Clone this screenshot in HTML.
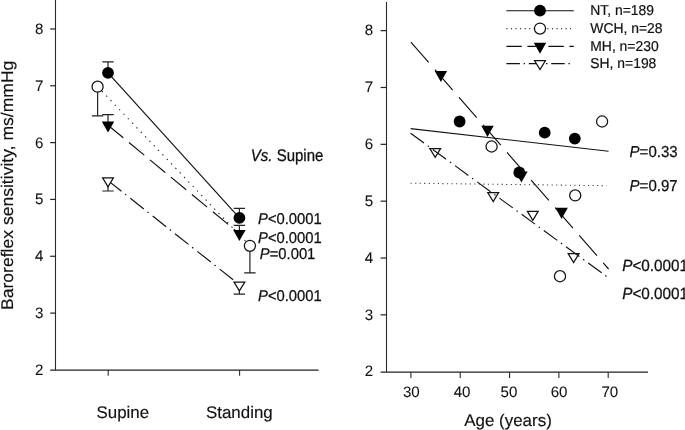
<!DOCTYPE html>
<html><head><meta charset="utf-8"><title>Baroreflex sensitivity</title>
<style>
html,body{margin:0;padding:0;background:#fff;}
body{width:685px;height:430px;overflow:hidden;}
svg{display:block;will-change:transform;}
text{font-family:"Liberation Sans",sans-serif;fill:#111;stroke:#111;stroke-width:0.25px;text-rendering:geometricPrecision;}
.t{font-size:14.8px;}
.v{font-size:15.0px;}
.k{font-size:15.1px;stroke-width:0.08px;}
.l{font-size:13.9px;stroke-width:0.2px;}
.b{font-size:16.9px;stroke-width:0.15px;}
.i{font-style:italic;}
.ax{stroke:#2a2a2a;stroke-width:1.1;fill:none;}
.tk{stroke:#222;stroke-width:1.2;fill:none;}
.axh{stroke:#222;stroke-width:1.25;fill:none;}
.ln{stroke:#111;stroke-width:1.15;fill:none;}
.dt{stroke:#333;stroke-width:1.05;fill:none;}
.eb{stroke:#222;stroke-width:1.2;fill:none;}
.fc{fill:#000;stroke:none;}
.oc{fill:#fff;stroke:#111;stroke-width:1.25;}
.on{fill:none;stroke:#111;stroke-width:1.25;}
</style></head><body>
<svg width="685" height="430" viewBox="0 0 685 430">
<rect width="685" height="430" fill="#fff"/>

<!-- left axes -->
<path class="ax" d="M55.5 0V370"/><path class="axh" d="M50.2 370H318.6"/>
<text class="k" transform="translate(43.50 374.93) scale(1 1.0)" text-anchor="end">2</text>
<path class="tk" d="M50.2 313.10H55.5"/>
<text class="k" transform="translate(43.50 318.10) scale(1 1.0)" text-anchor="end">3</text>
<path class="tk" d="M50.2 256.27H55.5"/>
<text class="k" transform="translate(43.50 261.27) scale(1 1.0)" text-anchor="end">4</text>
<path class="tk" d="M50.2 199.44H55.5"/>
<text class="k" transform="translate(43.50 204.44) scale(1 1.0)" text-anchor="end">5</text>
<path class="tk" d="M50.2 142.61H55.5"/>
<text class="k" transform="translate(43.50 147.61) scale(1 1.0)" text-anchor="end">6</text>
<path class="tk" d="M50.2 85.78H55.5"/>
<text class="k" transform="translate(43.50 90.78) scale(1 1.0)" text-anchor="end">7</text>
<path class="tk" d="M50.2 28.95H55.5"/>
<text class="k" transform="translate(43.50 33.95) scale(1 1.0)" text-anchor="end">8</text>
<path class="ax" d="M108.2 370V375.7"/>
<path class="ax" d="M239.6 370V375.7"/>
<text class="b" transform="translate(96.50 417.90) scale(1 1.0)">Supine</text>
<text class="b" transform="translate(206.00 417.90) scale(1 1.0)">Standing</text>
<text class="b" transform="translate(12.9 310.0) rotate(-90)" textLength="249.4" lengthAdjust="spacingAndGlyphs">Baroreflex sensitivity, ms/mmHg</text>
<path class="ln" d="M108.0 72.9L239.4 217.9"/>
<path class="dt" style="stroke:#222;stroke-width:1.1" stroke-dasharray="1.3 4.95" d="M97.6 86.7L249.9 245.8"/>
<path class="ln" stroke-dasharray="19.8 7.4" d="M108.0 125.2L239.4 233.7"/>
<path class="ln" stroke-dasharray="17.2 4.6 1.6 5.1" d="M108.0 180.6L239.4 284.7"/>
<path class="eb" d="M108.0 72.9V61.9M102.3 61.9H113.7"/>
<path class="eb" d="M97.6 86.7V115.8M91.89999999999999 115.8H103.3"/>
<path class="eb" d="M108.0 125.6V114.6M102.3 114.6H113.7"/>
<path class="eb" d="M108.0 180.6V191.0M102.3 191.0H113.7"/>
<path class="eb" d="M239.4 217.9V208.4M233.70000000000002 208.4H245.1"/>
<path class="eb" d="M239.4 233.7V225.4M233.70000000000002 225.4H245.1"/>
<path class="eb" d="M249.9 245.8V272.9M244.20000000000002 272.9H255.6"/>
<path class="eb" d="M239.4 284.7V294.1M233.70000000000002 294.1H245.1"/>
<circle class="fc" cx="108.00" cy="72.90" r="5.9"/>
<circle class="fc" cx="239.40" cy="217.90" r="5.9"/>
<circle class="oc" cx="97.60" cy="86.70" r="5.55"/>
<circle class="oc" cx="249.90" cy="245.80" r="5.55"/>
<path class="fc" d="M101.80 121.40L114.20 121.40L108.00 132.50Z"/>
<path class="fc" d="M233.20 229.90L245.60 229.90L239.40 241.00Z"/>
<path class="oc" d="M102.60 177.90L113.40 177.90L108.00 186.80Z"/>
<path class="oc" d="M234.00 282.00L244.80 282.00L239.40 290.90Z"/>
<text class="v" transform="translate(250.80 160.70) scale(1 1.12)"><tspan class="i">Vs.</tspan> Supine</text>
<text class="t" transform="translate(258.00 224.40) scale(1 1.06)"><tspan class="i">P</tspan>&lt;0.0001</text>
<text class="t" transform="translate(258.00 242.80) scale(1 1.06)"><tspan class="i">P</tspan>&lt;0.0001</text>
<text class="t" transform="translate(259.80 259.10) scale(1 1.06)"><tspan class="i">P</tspan>=0.001</text>
<text class="t" transform="translate(258.00 300.60) scale(1 1.06)"><tspan class="i">P</tspan>&lt;0.0001</text>
<!-- right axes -->
<path class="ax" d="M386.5 2V372"/><path class="axh" d="M380.6 372H648"/>
<text class="k" transform="translate(373.10 376.49) scale(1 1.0)" text-anchor="end">2</text>
<path class="tk" d="M380.6 314.85H386.5"/>
<text class="k" transform="translate(373.10 319.65) scale(1 1.0)" text-anchor="end">3</text>
<path class="tk" d="M380.6 258.01H386.5"/>
<text class="k" transform="translate(373.10 262.81) scale(1 1.0)" text-anchor="end">4</text>
<path class="tk" d="M380.6 201.17H386.5"/>
<text class="k" transform="translate(373.10 205.97) scale(1 1.0)" text-anchor="end">5</text>
<path class="tk" d="M380.6 144.33H386.5"/>
<text class="k" transform="translate(373.10 149.13) scale(1 1.0)" text-anchor="end">6</text>
<path class="tk" d="M380.6 87.49H386.5"/>
<text class="k" transform="translate(373.10 92.29) scale(1 1.0)" text-anchor="end">7</text>
<path class="tk" d="M380.6 30.65H386.5"/>
<text class="k" transform="translate(373.10 35.45) scale(1 1.0)" text-anchor="end">8</text>
<path class="ax" d="M410.90 372V378.1"/>
<text class="k" transform="translate(411.30 397.10) scale(1 1.0)" text-anchor="middle">30</text>
<path class="ax" d="M460.22 372V378.1"/>
<text class="k" transform="translate(462.02 397.10) scale(1 1.0)" text-anchor="middle">40</text>
<path class="ax" d="M509.55 372V378.1"/>
<text class="k" transform="translate(508.95 397.10) scale(1 1.0)" text-anchor="middle">50</text>
<path class="ax" d="M558.88 372V378.1"/>
<text class="k" transform="translate(559.08 397.10) scale(1 1.0)" text-anchor="middle">60</text>
<path class="ax" d="M608.20 372V378.1"/>
<text class="k" transform="translate(609.80 397.10) scale(1 1.0)" text-anchor="middle">70</text>
<text class="b" transform="translate(464.20 426.30) scale(1 1.0)" textLength="87.6" lengthAdjust="spacingAndGlyphs">Age (years)</text>
<circle class="fc" cx="459.60" cy="121.50" r="5.9"/>
<circle class="fc" cx="519.30" cy="172.50" r="5.9"/>
<circle class="fc" cx="544.70" cy="132.70" r="5.9"/>
<circle class="fc" cx="574.80" cy="138.60" r="5.9"/>
<circle class="on" cx="491.60" cy="146.50" r="5.55"/>
<circle class="on" cx="602.10" cy="121.50" r="5.55"/>
<circle class="on" cx="575.20" cy="195.40" r="5.55"/>
<circle class="on" cx="560.00" cy="276.20" r="5.55"/>
<path class="fc" d="M434.70 71.00L447.10 71.00L440.90 82.10Z"/>
<path class="fc" d="M481.30 125.80L493.70 125.80L487.50 136.90Z"/>
<path class="fc" d="M515.20 171.50L527.60 171.50L521.40 182.60Z"/>
<path class="fc" d="M555.40 207.80L567.80 207.80L561.60 218.90Z"/>
<path class="on" d="M429.80 148.50L440.60 148.50L435.20 157.40Z"/>
<path class="on" d="M487.80 192.60L498.60 192.60L493.20 201.50Z"/>
<path class="on" d="M527.40 211.30L538.20 211.30L532.80 220.20Z"/>
<path class="on" d="M568.20 253.70L579.00 253.70L573.60 262.60Z"/>
<path class="ln" d="M410.6 128.6L608.6 151.3"/>
<path class="dt" stroke-dasharray="1.1 3.45" d="M410.6 183.2L606.6 185.7"/>
<path class="ln" stroke-dasharray="27 9.6" d="M410.9 42.1L608.6 269"/>
<path class="ln" stroke-dasharray="16.6 4.6 1.5 4.8" d="M410.6 133.2L606.8 276.6"/>
<text class="t" transform="translate(629.60 157.00) scale(1 1.06)" style="font-size:15.0px"><tspan class="i">P</tspan>=0.33</text>
<text class="t" transform="translate(629.60 190.60) scale(1 1.06)" style="font-size:15.0px"><tspan class="i">P</tspan>=0.97</text>
<text class="t" transform="translate(622.20 271.30) scale(1 1.06)" style="font-size:15.3px"><tspan class="i">P</tspan>&lt;0.0001</text>
<text class="t" transform="translate(622.20 298.80) scale(1 1.06)" style="font-size:15.3px"><tspan class="i">P</tspan>&lt;0.0001</text>
<path class="ln" d="M506.4 10.7H573.8"/>
<path class="dt" stroke-dasharray="1.1 3.45" d="M506.4 28.6H571"/>
<path class="ln" stroke-dasharray="15.4 5.6" d="M506.4 46.3H573.8"/>
<path class="ln" stroke-dasharray="13.5 3.75 1.4 3.75" d="M506.4 63.6H570"/>
<circle class="fc" cx="540.00" cy="10.70" r="5.9"/>
<circle class="oc" cx="540.00" cy="28.60" r="5.55"/>
<path class="fc" d="M533.80 42.70L546.20 42.70L540.00 53.80Z"/>
<path class="oc" d="M534.60 60.70L545.40 60.70L540.00 69.60Z"/>
<text class="l" transform="translate(590.30 15.40) scale(1 1.03)">NT, n=189</text>
<text class="l" transform="translate(590.30 32.60) scale(1 1.03)">WCH, n=28</text>
<text class="l" transform="translate(590.30 50.60) scale(1 1.03)">MH, n=230</text>
<text class="l" transform="translate(590.30 67.80) scale(1 1.03)">SH, n=198</text>
</svg></body></html>
